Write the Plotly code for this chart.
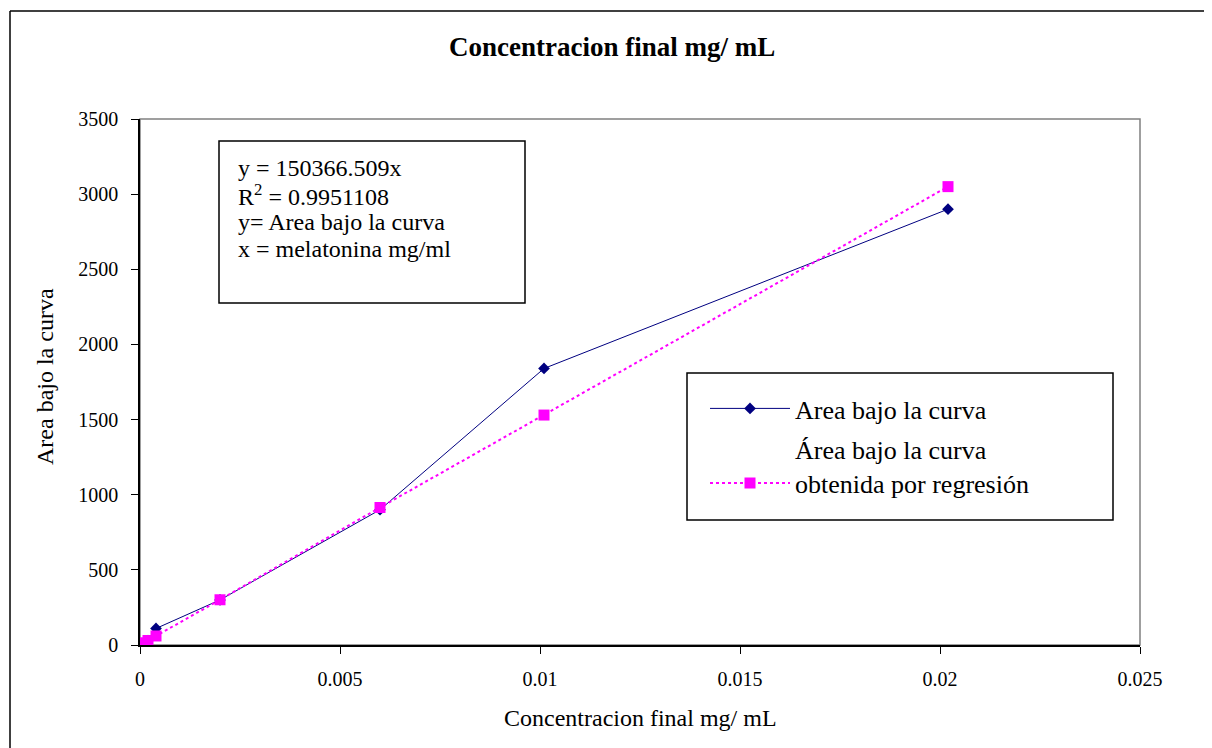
import plotly.graph_objects as go

x_conc = [0.0001, 0.0002, 0.0004, 0.002, 0.006, 0.0101, 0.0202]
area_obs = [15, 30, 110, 300, 900, 1840, 2900]
area_reg = [15, 30, 60, 301, 915, 1530, 3050]

name_obs = "Area bajo la curva"
name_reg = "Área bajo la curva<br>obtenida por regresión"
title_text = "Concentracion final mg/ mL"
x_title = "Concentracion final mg/ mL"
y_title = "Area bajo la curva"
eq_lines = ["y = 150366.509x", "R<sup>2</sup> = 0.9951108", "y= Area bajo la curva", "x = melatonina mg/ml"]
x_ticks = [0, 0.005, 0.01, 0.015, 0.02, 0.025]
x_ticktext = ["0", "0.005", "0.01", "0.015", "0.02", "0.025"]
y_ticks = [0, 500, 1000, 1500, 2000, 2500, 3000, 3500]

FONT = "Liberation Serif, Times New Roman, serif"

fig = go.Figure()
fig.add_trace(go.Scatter(
    x=x_conc, y=area_obs, name=name_obs, mode="lines+markers", legendgroup="a",
    line=dict(color="#000080", width=1),
    marker=dict(symbol="diamond", size=9, color="#000080"),
))
fig.add_trace(go.Scatter(
    x=x_conc, y=area_reg, name=name_reg, mode="lines+markers", legendgroup="b",
    line=dict(color="#FF00FF", width=2, dash="dot"),
    marker=dict(symbol="square", size=11, color="#FF00FF"),
))

OFF = 8  # page body margin
W, H = 1212 - OFF, 748 - OFF
# plot area in screen pixels: x 140..1140, y 119..645
L, T = 140 - OFF, 119 - OFF
R = W - (1140 - OFF)
B = H - (645 - OFF)
pw, ph = W - L - R, H - T - B

def px(xs):
    return (xs - OFF - L) / pw

def py(ys):
    return (H - B - (ys - OFF)) / ph

shapes = [
    # outer chart frame
    dict(type="line", xref="paper", yref="paper", x0=px(10), x1=px(10), y0=py(11), y1=py(800),
         line=dict(color="black", width=1.5)),
    dict(type="line", xref="paper", yref="paper", x0=px(10), x1=px(1300), y0=py(11), y1=py(11),
         line=dict(color="black", width=1.5)),
    # plot area frame
    dict(type="rect", xref="paper", yref="paper", x0=0, x1=1, y0=0, y1=1,
         line=dict(color="#808080", width=1.5), layer="below"),
    # equation box
    dict(type="rect", xref="paper", yref="paper", x0=px(219), x1=px(525), y0=py(141), y1=py(303),
         line=dict(color="black", width=1.5), fillcolor="white"),
    # legend box
    dict(type="rect", xref="paper", yref="paper", x0=px(687), x1=px(1113), y0=py(373), y1=py(520),
         line=dict(color="black", width=1.5), fillcolor="white"),
]

annotations = [
    dict(text="<b>" + title_text + "</b>", xref="paper", yref="paper", x=px(612), y=py(47),
         showarrow=False, font=dict(family=FONT, size=27, color="black"), xanchor="center", yanchor="middle"),
    dict(text=x_title, xref="paper", yref="paper", x=px(640), y=py(718),
         showarrow=False, xanchor="center", yanchor="middle",
         font=dict(family=FONT, size=24, color="black")),
    dict(text=y_title, xref="paper", yref="paper", x=px(45), y=py(377), textangle=-90,
         showarrow=False, xanchor="center", yanchor="middle",
         font=dict(family=FONT, size=24, color="black")),
]
eq_y = [168, 195, 222, 249]
for line, yy in zip(eq_lines, eq_y):
    annotations.append(dict(
        text=line, xref="paper", yref="paper", x=px(236), y=py(yy),
        showarrow=False, align="left", xanchor="left", yanchor="middle",
        font=dict(family=FONT, size=24, color="black")))

fig.update_layout(
    width=W, height=H,
    margin=dict(l=L, r=R, t=T, b=B),
    paper_bgcolor="white", plot_bgcolor="white",
    font=dict(family=FONT, size=20, color="black"),
    shapes=shapes, annotations=annotations,
    showlegend=True,
    legend=dict(
        x=px(705), y=py(385), xanchor="left", yanchor="top",
        borderwidth=0, bgcolor="rgba(0,0,0,0)",
        font=dict(family=FONT, size=26, color="black"),
        itemwidth=80, tracegroupgap=4, valign="bottom",
    ),
)
fig.update_xaxes(
    range=[0, 0.025], tickvals=x_ticks, ticktext=x_ticktext,
    showgrid=False, zeroline=False, showline=True, linecolor="black", linewidth=1.5,
    ticks="outside", ticklen=7, tickcolor="black", ticklabelstandoff=8,
    tickfont=dict(family=FONT, size=20),
)
fig.update_yaxes(
    range=[0, 3500], tickvals=y_ticks,
    showgrid=False, zeroline=False, showline=True, linecolor="black", linewidth=1.5,
    ticks="outside", ticklen=7, tickcolor="black", ticklabelstandoff=9,
    tickfont=dict(family=FONT, size=20),
)

fig.write_html("out.html")
